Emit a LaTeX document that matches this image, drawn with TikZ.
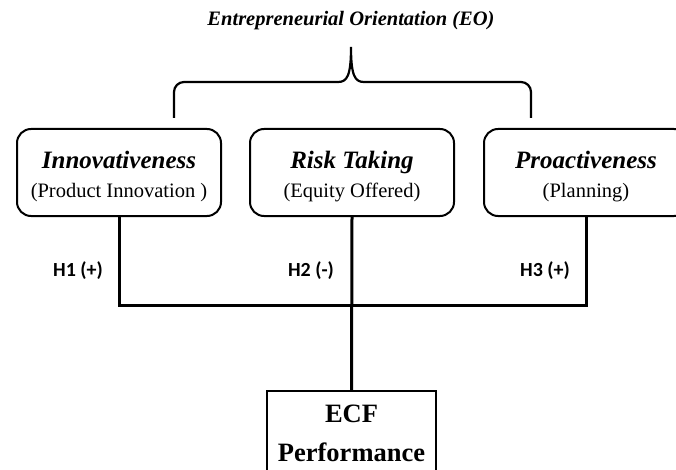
\documentclass[tikz,border=0pt]{standalone}
\usepackage{fontspec}
\setmainfont{Liberation Serif}
\newfontfamily\hfont{Carlito}
\usetikzlibrary{positioning,calc}
\tikzset{
 dim/.style={draw=black,line width=2pt,rounded corners=14pt,align=center,minimum width=204pt,minimum height=87pt,inner sep=2pt,font=\fontsize{20.5}{29}\selectfont},
 outcome/.style={draw=black,line width=2pt,align=center,minimum width=169pt,minimum height=84pt,font=\fontsize{26.5}{39}\selectfont\bfseries},
 hyp/.style={font=\hfont\fontsize{20}{24}\selectfont\bfseries},
 link/.style={line width=3pt,draw=black},
 brace/.style={line width=2.2pt,draw=black}
}
\newcommand{\dimtext}[2]{{\fontsize{25}{29}\selectfont\bfseries\itshape\rule{0pt}{26pt}#1}\\#2}
\begin{document}
\begin{tikzpicture}[x=1pt,y=-1pt]
\useasboundingbox (0,0) rectangle (676,470);
\node[font=\fontsize{20.5}{24}\selectfont\bfseries\itshape] (title) at (351,21) {Entrepreneurial Orientation (EO)};
\node[dim] (innov) at (119,172.5) {\dimtext{Innovativeness}{(Product Innovation )}};
\node[dim] (risk) at (352,172.5) {\dimtext{Risk Taking}{(Equity Offered)}};
\node[dim] (proact) at (586,172.5) {\dimtext{Proactiveness}{(Planning)}};
\node[outcome,anchor=north] (ecf) at (351.5,390) {ECF\\Performance};
\node[hyp] (h1) at (78,271) {H1 (+)};
\node[hyp] (h2) at (311,271) {H2 (-)};
\node[hyp] (h3) at (545,271) {H3 (+)};
% brace over the three dimensions
\coordinate (tip) at (351,47);
\coordinate (bl) at (174,118);
\coordinate (br) at (531,118);
\draw[brace] (bl) -- ++(0,-26) to[out=90,in=180] ++(10,-10) -- (338,82) .. controls (347,82) and (351,76) .. (tip)
 .. controls (351,76) and (355,82) .. (364,82) -- (521,82) to[out=0,in=90] ++(10,10) -- (br);
% hypothesis links
\coordinate (join) at (risk.south |- 0,305);
\draw[link] (innov.south) -- (innov.south |- join) -- (proact.south |- join) -- (proact.south);
\draw[link] (risk.south) -- (ecf.north);
\end{tikzpicture}
\end{document}
